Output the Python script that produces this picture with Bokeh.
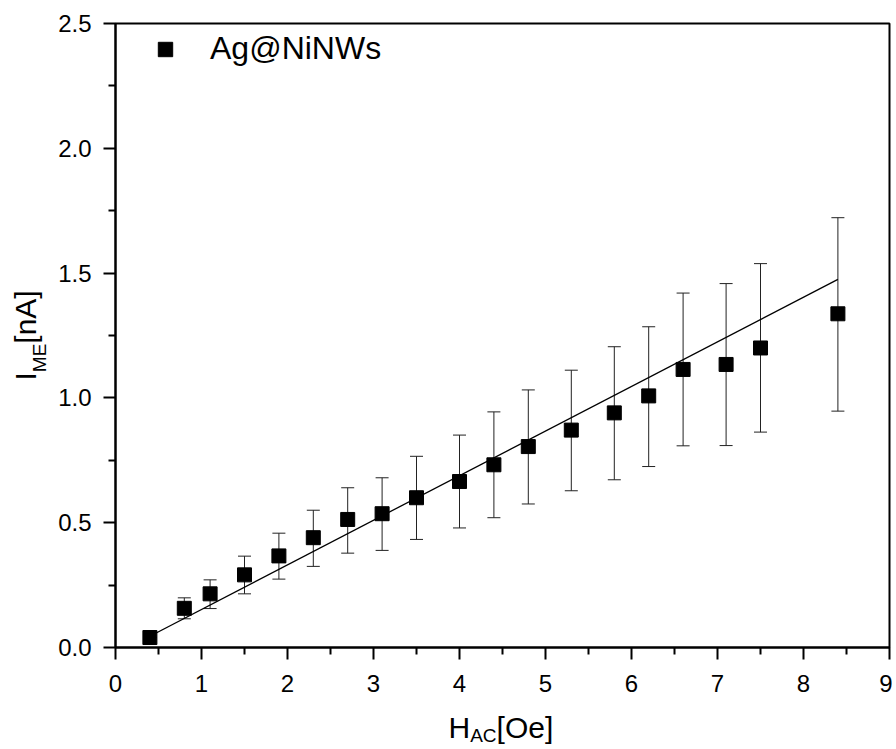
import math
from bokeh.plotting import figure
from bokeh.layouts import row, column
from bokeh.models import (Range1d, FixedTicker, NumeralTickFormatter, Whisker, TeeHead,
                          ColumnDataSource, Label, Legend, LegendItem)
from bokeh.embed import file_html
from bokeh.resources import INLINE

# ---- data ----
h_ac = [0.4, 0.8, 1.1, 1.5, 1.9, 2.3, 2.7, 3.1, 3.5, 4.0, 4.4, 4.8, 5.3, 5.8, 6.2, 6.6, 7.1, 7.5, 8.4]
i_me = [0.040, 0.157, 0.215, 0.291, 0.367, 0.440, 0.513, 0.536, 0.600, 0.665, 0.732, 0.805,
        0.871, 0.940, 1.008, 1.114, 1.134, 1.200, 1.337]
err_upper = [0.040, 0.199, 0.271, 0.366, 0.458, 0.550, 0.640, 0.680, 0.766, 0.851, 0.944, 1.032,
             1.111, 1.205, 1.285, 1.420, 1.458, 1.538, 1.722]
err_lower = [0.040, 0.115, 0.156, 0.215, 0.274, 0.325, 0.378, 0.389, 0.433, 0.479, 0.520, 0.575,
             0.628, 0.672, 0.725, 0.808, 0.809, 0.863, 0.947]
fit_x = [0.4, 8.4]
fit_y = [0.045, 1.475]

x_ticks = [0, 1, 2, 3, 4, 5, 6, 7, 8, 9]
x_minor = [0.5, 1.5, 2.5, 3.5, 4.5, 5.5, 6.5, 7.5, 8.5]
y_ticks = [0.0, 0.5, 1.0, 1.5, 2.0, 2.5]
y_minor = [0.25, 0.75, 1.25, 1.75, 2.25]
series_name = "Ag@NiNWs"
x_label_main, x_label_sub, x_label_unit = "H", "AC", "[Oe]"
y_label_main, y_label_sub, y_label_unit = "I", "ME", "[nA]"

FONT = "Liberation Sans"
FX = 30   # axis label font
FS = 19   # subscript font

YLAB_W = 50
MAIN_W = 842
MAIN_H = 702
XLAB_H = 47

p = figure(width=MAIN_W, height=MAIN_H, output_backend="svg", toolbar_location=None,
           x_range=Range1d(0, 9), y_range=Range1d(0, 2.5),
           min_border_left=65, min_border_right=3, min_border_top=23, min_border_bottom=55)

p.background_fill_color = "white"
p.border_fill_color = "white"
p.grid.visible = False
p.outline_line_color = "black"
p.outline_line_width = 2

for ax in (p.xaxis[0], p.yaxis[0]):
    ax.axis_line_width = 2
    ax.major_tick_line_width = 2
    ax.minor_tick_line_width = 2
    ax.major_tick_in = 0
    ax.major_tick_out = 12
    ax.minor_tick_in = 0
    ax.minor_tick_out = 7
    ax.major_label_text_font = FONT
    ax.major_label_text_font_size = "24px"
    ax.major_label_text_color = "black"
    ax.axis_label = None

p.xaxis[0].ticker = FixedTicker(ticks=x_ticks, minor_ticks=x_minor)
p.yaxis[0].ticker = FixedTicker(ticks=y_ticks, minor_ticks=y_minor)
p.yaxis[0].formatter = NumeralTickFormatter(format="0.0")
p.xaxis[0].major_label_standoff = 15
p.yaxis[0].major_label_standoff = 12

src = ColumnDataSource(dict(x=h_ac, y=i_me, upper=err_upper, lower=err_lower))

# fit line
p.line(fit_x, fit_y, line_color="black", line_width=1.3)

# error bars
wh = Whisker(base="x", upper="upper", lower="lower", source=src,
             line_color="#222222", line_width=1,
             upper_head=TeeHead(size=13, line_color="#222222", line_width=1),
             lower_head=TeeHead(size=13, line_color="#222222", line_width=1))
p.add_layout(wh)

pts = p.scatter("x", "y", source=src, marker="square", size=14,
                fill_color="black", line_color="black")

legend = Legend(items=[LegendItem(label=series_name, renderers=[pts])],
                location="top_left", margin=0, padding=7,
                glyph_width=86, glyph_height=36, label_standoff=2,
                label_text_font=FONT, label_text_font_size="32px",
                label_text_color="black",
                border_line_alpha=0, background_fill_alpha=0)
p.add_layout(legend)


def label_fig(w, h):
    f = figure(width=w, height=h, output_backend="svg", toolbar_location=None,
               x_axis_type=None, y_axis_type=None,
               x_range=Range1d(0, 1), y_range=Range1d(0, 1),
               min_border=0, min_border_left=0, min_border_right=0,
               min_border_top=0, min_border_bottom=0)
    f.outline_line_color = None
    f.grid.visible = False
    f.background_fill_color = "white"
    f.border_fill_color = "white"
    return f


def lab(**kw):
    return Label(x_units="screen", y_units="screen", text_font=FONT,
                 text_color="black", text_baseline="alphabetic", **kw)


# x axis label strip: H_AC[Oe]  (its frame is aligned with the main frame)
xl = label_fig(MAIN_W, XLAB_H)
xs = 333
xl.add_layout(lab(x=xs, y=22, text=x_label_main, text_font_size=f"{FX}px"))
xl.add_layout(lab(x=xs + 0.722 * FX, y=14, text=x_label_sub, text_font_size=f"{FS}px"))
xl.add_layout(lab(x=xs + 0.722 * FX + 1.389 * FS, y=22, text=x_label_unit,
                  text_font_size=f"{FX}px"))

# y axis label strip: I_ME[nA]
yl = label_fig(YLAB_W, MAIN_H + XLAB_H)
ys = MAIN_H + XLAB_H - 380
yl.add_layout(lab(x=25, y=ys, text=y_label_main, angle=math.pi / 2, text_font_size=f"{FX}px"))
yl.add_layout(lab(x=39, y=ys + 0.278 * FX, text=y_label_sub, angle=math.pi / 2,
                  text_font_size=f"{FS}px"))
yl.add_layout(lab(x=25, y=ys + 0.278 * FX + 1.5 * FS, text=y_label_unit, angle=math.pi / 2,
                  text_font_size=f"{FX}px"))

layout = row(yl, column(p, xl, spacing=0), spacing=0)

open("out.html", "w").write(file_html(layout, INLINE))
